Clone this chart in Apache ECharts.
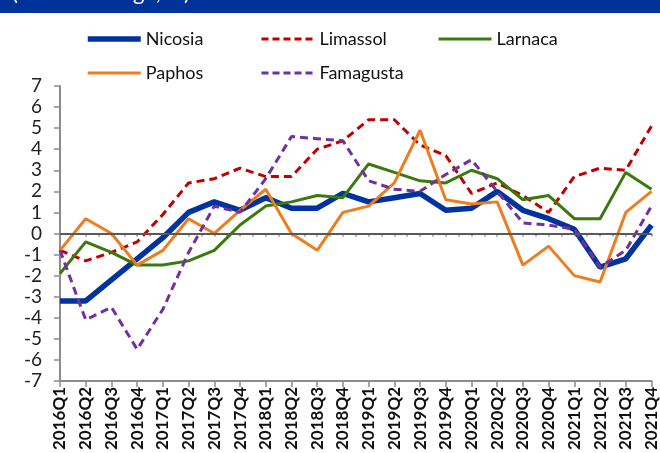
<!DOCTYPE html>
<html><head><meta charset="utf-8">
<script src="https://cdn.jsdelivr.net/npm/echarts@6/dist/echarts.min.js"></script>
<style>html,body{margin:0;padding:0;background:#fff}#c{width:660px;height:453px}</style>
</head><body><div id="c"></div>
<script>
const categories = ['2016Q1','2016Q2','2016Q3','2016Q4','2017Q1','2017Q2','2017Q3','2017Q4','2018Q1','2018Q2','2018Q3','2018Q4','2019Q1','2019Q2','2019Q3','2019Q4','2020Q1','2020Q2','2020Q3','2020Q4','2021Q1','2021Q2','2021Q3','2021Q4'];
const nicosia   = [-3.2,-3.2,-2.2,-1.2,-0.2,1.0,1.5,1.1,1.7,1.2,1.2,1.9,1.5,1.7,1.9,1.1,1.2,2.0,1.1,0.7,0.2,-1.6,-1.2,0.4];
const limassol  = [-0.8,-1.3,-0.9,-0.4,0.9,2.4,2.6,3.1,2.7,2.7,4.0,4.4,5.4,5.4,4.2,3.7,1.9,2.4,1.8,1.0,2.7,3.1,3.0,5.1];
const larnaca   = [-1.9,-0.4,-0.9,-1.5,-1.5,-1.3,-0.8,0.4,1.3,1.5,1.8,1.7,3.3,2.9,2.5,2.4,3.0,2.6,1.6,1.8,0.7,0.7,2.9,2.1];
const paphos    = [-0.8,0.7,0.0,-1.5,-0.8,0.7,0.0,1.1,2.1,0.0,-0.8,1.0,1.3,2.4,4.9,1.6,1.4,1.5,-1.5,-0.6,-2.0,-2.3,1.0,2.0];
const famagusta = [-0.8,-4.1,-3.5,-5.5,-3.6,-0.9,1.3,1.0,2.6,4.6,4.5,4.4,2.5,2.1,2.0,2.8,3.5,2.0,0.5,0.4,0.2,-1.6,-0.8,1.3];
const yTicks = {min: -7, max: 7, interval: 1};
const headerText = '(annual change, %)';

const FONT = 'Lato';
const chart = echarts.init(document.getElementById('c'), null, {renderer: 'canvas'});
const styles = {
  Nicosia:   {color: '#0033A0', width: 5.5, type: 'solid'},
  Limassol:  {color: '#C00000', width: 3, type: [8, 5]},
  Larnaca:   {color: '#3C780C', width: 3, type: 'solid'},
  Paphos:    {color: '#ED7D1F', width: 3, type: 'solid'},
  Famagusta: {color: '#7030A0', width: 3, type: [8, 5]}
};
function mk(name, data) {
  const s = styles[name];
  return {name, type: 'line', data, symbol: 'none', smooth: false, xAxisIndex: 0,
    lineStyle: {color: s.color, width: s.width, type: s.type}, itemStyle: {color: s.color}};
}
const series = [
  mk('Nicosia', nicosia),
  mk('Limassol', limassol),
  mk('Larnaca', larnaca),
  mk('Paphos', paphos),
  mk('Famagusta', famagusta)
];
series[0].markLine = {silent: true, symbol: 'none', label: {show: false},
  lineStyle: {color: '#595959', width: 2, type: 'solid'}, data: [{yAxis: 0}]};
function litem(name) {
  const s = styles[name];
  const t = Array.isArray(s.type) ? [7, 4] : s.type;
  return {name, lineStyle: {color: s.color, width: s.width, type: t}};
}
const legendCommon = {orient: 'vertical', itemWidth: 53, itemHeight: 14, itemGap: 16,
  itemStyle: {opacity: 0},
  textStyle: {fontFamily: FONT, fontSize: 18, color: '#111'}};
chart.setOption({
  animation: false,
  graphic: [
    {type: 'rect', shape: {x: 0, y: 0, width: 660, height: 13}, style: {fill: '#003399'}},
    {type: 'text', style: {x: 12, y: 4, text: headerText, fill: '#fff', font: '22px ' + FONT, verticalAlign: 'bottom'}}
  ],
  legend: [
    Object.assign({}, legendCommon, {data: [litem('Nicosia'), litem('Paphos')], left: 80, top: 25}),
    Object.assign({}, legendCommon, {data: [litem('Limassol'), litem('Famagusta')], left: 255, top: 25}),
    Object.assign({}, legendCommon, {data: [litem('Larnaca')], left: 432, top: 25})
  ],
  grid: {left: 60, right: 7, top: 86, bottom: 72, containLabel: false},
  xAxis: [
    {type: 'category', data: categories, boundaryGap: false,
     axisLine: {show: true, onZero: false, lineStyle: {color: '#8c8c8c', width: 2}},
     axisTick: {show: true, length: 6, alignWithLabel: true, lineStyle: {color: '#8c8c8c', width: 1.5}},
     axisLabel: {rotate: 90, fontFamily: FONT, fontSize: 17, fontWeight: 'bold', color: '#111', margin: 6, interval: 0},
     splitLine: {show: false}},
    {type: 'value', min: 0, max: categories.length - 1, interval: 0.5, position: 'bottom',
     axisLine: {show: false}, axisLabel: {show: false}, splitLine: {show: false},
     axisTick: {show: true, length: 3, lineStyle: {color: '#8c8c8c', width: 1.5}}}
  ],
  yAxis: {type: 'value', min: yTicks.min, max: yTicks.max, interval: yTicks.interval,
    axisLine: {show: true, onZero: false, lineStyle: {color: '#8c8c8c', width: 2}},
    axisTick: {show: true, length: 6, lineStyle: {color: '#8c8c8c', width: 1.5}},
    axisLabel: {fontFamily: FONT, fontSize: 19, color: '#222', margin: 18},
    splitLine: {show: false}},
  series
});
</script></body></html>
